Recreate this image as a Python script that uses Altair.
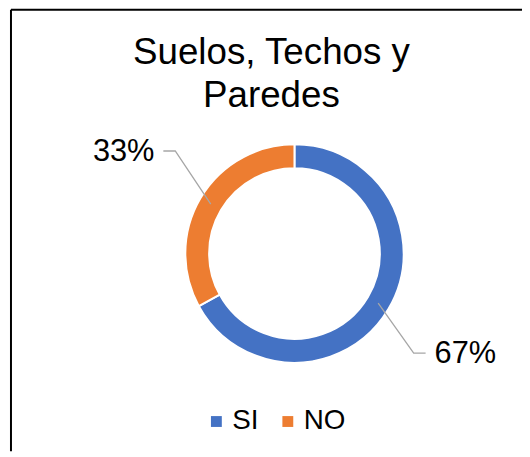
import math
import altair as alt
import pandas as pd

# ---- data ----
categories = ["SI", "NO"]
values = [67, 33]
colors = ["#4472C4", "#ED7D31"]
title_lines = ["Suelos, Techos y", "Paredes"]

# ---- layout constants (pixels) ----
W, H = 515, 445
CX, CY = 285.7, 245.7          # donut centre inside the plot area
R_OUT, R_IN = 110, 86
R_MID = (R_OUT + R_IN) / 2
R_LABEL = 200
FONT = "Liberation Sans"

xs = alt.Scale(domain=[-CX, W - CX], range=[0, W], nice=False, zero=False)
ys = alt.Scale(domain=[-(H - CY), CY], range=[H, 0], nice=False, zero=False)

total = sum(values)
arc_rows, line_rows, lab_rows = [], [], []
cum = 0
for i, (c, v) in enumerate(zip(categories, values)):
    arc_rows.append({"cat": c, "val": v, "ord": i, "cx": 0, "cy": 0})
    th = 2 * math.pi * (cum + v / 2) / total
    cum += v
    s, co = math.sin(th), math.cos(th)
    sgn = 1 if s > 0 else -1
    lx, ly = R_LABEL * s, R_LABEL * co
    ex, ey = lx - sgn * 40, ly + 1.5
    kx, ky = ex - sgn * 12, ey
    sx, sy = R_MID * s, R_MID * co
    for j, (px, py) in enumerate([(sx, sy), (kx, ky), (ex, ey)]):
        line_rows.append({"cat": c, "pt": j, "x": px, "y": py})
    lab_rows.append({"cat": c, "x": lx, "y": ly,
                     "txt": f"{round(100 * v / total)}%"})

arc_df = pd.DataFrame(arc_rows)
line_df = pd.DataFrame(line_rows)
lab_df = pd.DataFrame(lab_rows)

border_left = alt.Chart(alt.Data(values=[{}])).mark_rule(
    color="black", strokeWidth=2
).encode(x=alt.value(0), y=alt.value(0), y2=alt.value(H))
border_top = alt.Chart(alt.Data(values=[{}])).mark_rule(
    color="black", strokeWidth=2
).encode(x=alt.value(0), x2=alt.value(W), y=alt.value(0))

arcs = alt.Chart(arc_df).mark_arc(
    radius=R_OUT, radius2=R_IN, stroke="white", strokeWidth=2
).encode(
    theta=alt.Theta("val:Q", stack=True),
    order=alt.Order("ord:Q"),
    x=alt.X("cx:Q", scale=xs, axis=None),
    y=alt.Y("cy:Q", scale=ys, axis=None),
    color=alt.Color(
        "cat:N",
        scale=alt.Scale(domain=categories, range=colors),
        sort=categories,
        legend=alt.Legend(
            title=None, orient="none", direction="horizontal",
            legendX=193, legendY=401,
            symbolType="square", symbolSize=120, symbolStrokeWidth=0,
            labelFont=FONT, labelFontSize=28, labelColor="black",
            labelOffset=2, columnPadding=15, padding=0,
        ),
    ),
)

lines = alt.Chart(line_df).mark_line(color="#A6A6A6", strokeWidth=1.3).encode(
    x=alt.X("x:Q", scale=xs, axis=None),
    y=alt.Y("y:Q", scale=ys, axis=None),
    detail="cat:N",
    order="pt:Q",
)

labels = alt.Chart(lab_df).mark_text(
    font=FONT, fontSize=31, color="black", align="center", baseline="middle"
).encode(
    x=alt.X("x:Q", scale=xs, axis=None),
    y=alt.Y("y:Q", scale=ys, axis=None),
    text="txt:N",
)

chart = alt.layer(border_left, border_top, arcs, lines, labels).properties(
    width=W, height=H,
    autosize=alt.AutoSizeParams(type="none"),
    padding={"left": 3, "top": 0, "right": 0, "bottom": 0},
    title=alt.TitleParams(
        title_lines, font=FONT, fontSize=37, fontWeight="normal",
        color="black", anchor="middle", frame="group", baseline="top",
        lineHeight=43, dx=5, dy=107, offset=0,
    ),
).configure_view(stroke=None)

chart.save("out.html", embed_options={"renderer": "svg", "actions": False})
